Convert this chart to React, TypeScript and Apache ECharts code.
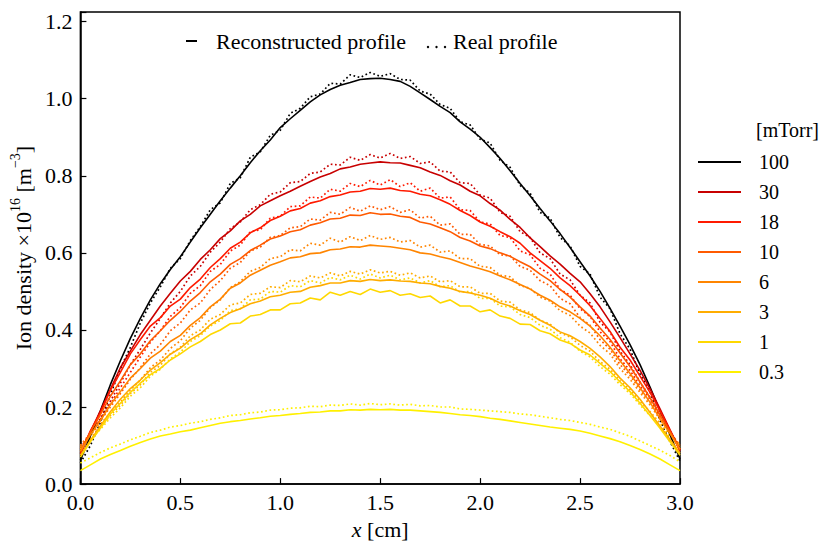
import React, { useEffect, useRef } from "react";
import * as echarts from "echarts";

const FONT = "Liberation Serif";

// sampling positions along the chamber, cm
const X_CM = [
  0, 0.05, 0.1, 0.15, 0.2, 0.25, 0.3, 0.35, 0.4, 0.45,
  0.5, 0.55, 0.6, 0.65, 0.7, 0.75, 0.8, 0.85, 0.9, 0.95,
  1, 1.05, 1.1, 1.15, 1.2, 1.25, 1.3, 1.35, 1.4, 1.45,
  1.5, 1.55, 1.6, 1.65, 1.7, 1.75, 1.8, 1.85, 1.9, 1.95,
  2, 2.05, 2.1, 2.15, 2.2, 2.25, 2.3, 2.35, 2.4, 2.45,
  2.5, 2.55, 2.6, 2.65, 2.7, 2.75, 2.8, 2.85, 2.9, 2.95,
  3,
];

const PRESSURES = ["100", "30", "18", "10", "6", "3", "1", "0.3"];
const COLORS = ["#000000", "#c80000", "#ff1a00", "#ff5a00", "#ff8500", "#ffad00", "#ffd800", "#fff000"];

// reconstructed profiles (x10^16 m^-3)
const REC_100 = [
  0.062, 0.125, 0.19, 0.258, 0.32, 0.378, 0.43, 0.478, 0.52, 0.557,
  0.59, 0.628, 0.665, 0.7, 0.735, 0.768, 0.8, 0.834, 0.865, 0.893,
  0.925, 0.948, 0.97, 0.992, 1.01, 1.024, 1.035, 1.042, 1.05, 1.052,
  1.053, 1.05, 1.045, 1.032, 1.015, 0.998, 0.98, 0.964, 0.94, 0.921,
  0.9, 0.873, 0.845, 0.813, 0.78, 0.748, 0.715, 0.683, 0.65, 0.614,
  0.577, 0.54, 0.5, 0.456, 0.41, 0.362, 0.31, 0.252, 0.19, 0.128,
  0.065,
];
const REC_30 = [
  0.077, 0.136, 0.19, 0.246, 0.302, 0.345, 0.388, 0.425, 0.462, 0.495,
  0.527, 0.552, 0.583, 0.608, 0.637, 0.657, 0.683, 0.7, 0.722, 0.735,
  0.748, 0.76, 0.773, 0.785, 0.797, 0.806, 0.818, 0.823, 0.83, 0.833,
  0.836, 0.834, 0.833, 0.827, 0.821, 0.81, 0.801, 0.787, 0.776, 0.76,
  0.748, 0.728, 0.711, 0.687, 0.666, 0.639, 0.616, 0.592, 0.571, 0.547,
  0.525, 0.494, 0.46, 0.421, 0.38, 0.338, 0.295, 0.247, 0.195, 0.141,
  0.088,
];
const REC_18 = [
  0.08, 0.138, 0.185, 0.243, 0.29, 0.338, 0.375, 0.41, 0.432, 0.462,
  0.48, 0.51, 0.532, 0.562, 0.585, 0.612, 0.628, 0.652, 0.665, 0.684,
  0.695, 0.709, 0.715, 0.729, 0.735, 0.746, 0.75, 0.758, 0.76, 0.767,
  0.765, 0.768, 0.762, 0.76, 0.752, 0.748, 0.738, 0.726, 0.71, 0.697,
  0.68, 0.669, 0.655, 0.642, 0.625, 0.6, 0.58, 0.56, 0.535, 0.515,
  0.49, 0.463, 0.43, 0.396, 0.355, 0.322, 0.28, 0.238, 0.19, 0.14,
  0.085,
];
const REC_10 = [
  0.085, 0.135, 0.18, 0.228, 0.268, 0.31, 0.338, 0.372, 0.398, 0.425,
  0.448, 0.475, 0.497, 0.525, 0.545, 0.57, 0.585, 0.606, 0.62, 0.636,
  0.644, 0.655, 0.66, 0.672, 0.678, 0.688, 0.69, 0.698, 0.697, 0.704,
  0.7, 0.701, 0.695, 0.692, 0.68, 0.675, 0.665, 0.655, 0.64, 0.631,
  0.618, 0.611, 0.6, 0.591, 0.577, 0.564, 0.545, 0.528, 0.505, 0.485,
  0.46, 0.436, 0.405, 0.375, 0.34, 0.305, 0.265, 0.224, 0.18, 0.136,
  0.09,
];
const REC_6 = [
  0.085, 0.128, 0.165, 0.206, 0.24, 0.275, 0.3, 0.327, 0.345, 0.37,
  0.386, 0.412, 0.432, 0.46, 0.48, 0.508, 0.522, 0.542, 0.555, 0.568,
  0.577, 0.587, 0.59, 0.598, 0.6, 0.608, 0.61, 0.616, 0.615, 0.62,
  0.618, 0.616, 0.612, 0.608, 0.6, 0.597, 0.59, 0.584, 0.575, 0.566,
  0.559, 0.551, 0.54, 0.53, 0.518, 0.506, 0.49, 0.477, 0.46, 0.447,
  0.43, 0.41, 0.385, 0.355, 0.32, 0.287, 0.25, 0.212, 0.17, 0.131,
  0.09,
];
const REC_3 = [
  0.075, 0.113, 0.15, 0.188, 0.22, 0.248, 0.27, 0.296, 0.315, 0.337,
  0.353, 0.375, 0.39, 0.413, 0.43, 0.445, 0.455, 0.468, 0.475, 0.486,
  0.49, 0.498, 0.5, 0.511, 0.515, 0.522, 0.522, 0.528, 0.526, 0.531,
  0.528, 0.53, 0.527, 0.526, 0.522, 0.52, 0.513, 0.508, 0.5, 0.496,
  0.49, 0.482, 0.47, 0.462, 0.45, 0.44, 0.425, 0.412, 0.395, 0.385,
  0.37, 0.352, 0.33, 0.305, 0.275, 0.25, 0.22, 0.186, 0.15, 0.116,
  0.08,
];
const REC_1 = [
  0.07, 0.11, 0.145, 0.182, 0.21, 0.238, 0.262, 0.284, 0.3, 0.322,
  0.338, 0.356, 0.37, 0.388, 0.4, 0.416, 0.418, 0.436, 0.44, 0.452,
  0.452, 0.468, 0.47, 0.483, 0.478, 0.498, 0.49, 0.5, 0.492, 0.506,
  0.498, 0.502, 0.49, 0.494, 0.484, 0.488, 0.47, 0.478, 0.462, 0.462,
  0.447, 0.452, 0.436, 0.43, 0.415, 0.414, 0.398, 0.39, 0.374, 0.365,
  0.348, 0.335, 0.313, 0.292, 0.265, 0.24, 0.21, 0.178, 0.145, 0.11,
  0.075,
];
const REC_03 = [
  0.035, 0.05, 0.065, 0.077, 0.087, 0.098, 0.108, 0.117, 0.125, 0.13,
  0.136, 0.14, 0.146, 0.152, 0.158, 0.162, 0.165, 0.169, 0.172, 0.176,
  0.178, 0.181, 0.183, 0.186, 0.187, 0.19, 0.19, 0.193, 0.192, 0.194,
  0.193, 0.194, 0.192, 0.192, 0.19, 0.188, 0.186, 0.183, 0.18, 0.178,
  0.175, 0.171, 0.168, 0.164, 0.16, 0.156, 0.152, 0.148, 0.145, 0.142,
  0.138, 0.132, 0.125, 0.118, 0.11, 0.1, 0.09, 0.078, 0.065, 0.05,
  0.035,
];

// measured (real) profiles
const REAL_100 = [
  0.055, 0.1, 0.16, 0.232, 0.3, 0.355, 0.418, 0.47, 0.512, 0.56,
  0.585, 0.632, 0.668, 0.712, 0.73, 0.78, 0.795, 0.848, 0.862, 0.905,
  0.918, 0.962, 0.975, 1.005, 1.012, 1.04, 1.038, 1.062, 1.055, 1.068,
  1.058, 1.065, 1.05, 1.048, 1.02, 1.012, 0.985, 0.975, 0.94, 0.932,
  0.895, 0.885, 0.84, 0.822, 0.775, 0.755, 0.705, 0.69, 0.64, 0.618,
  0.565, 0.545, 0.485, 0.455, 0.39, 0.35, 0.285, 0.24, 0.165, 0.11,
  0.06,
];
const REAL_30 = [
  0.09, 0.13, 0.17, 0.215, 0.262, 0.31, 0.35, 0.392, 0.43, 0.47,
  0.5, 0.54, 0.565, 0.602, 0.628, 0.663, 0.68, 0.712, 0.725, 0.752,
  0.758, 0.782, 0.785, 0.806, 0.81, 0.83, 0.828, 0.848, 0.84, 0.855,
  0.846, 0.858, 0.845, 0.85, 0.832, 0.836, 0.812, 0.81, 0.782, 0.78,
  0.75, 0.742, 0.705, 0.695, 0.655, 0.64, 0.6, 0.585, 0.545, 0.53,
  0.49, 0.47, 0.42, 0.395, 0.345, 0.31, 0.265, 0.225, 0.18, 0.135,
  0.09,
];
const REAL_18 = [
  0.095, 0.13, 0.168, 0.208, 0.25, 0.29, 0.33, 0.368, 0.398, 0.435,
  0.458, 0.495, 0.515, 0.552, 0.57, 0.605, 0.62, 0.655, 0.66, 0.69,
  0.695, 0.72, 0.722, 0.745, 0.742, 0.765, 0.76, 0.78, 0.772, 0.788,
  0.776, 0.79, 0.772, 0.782, 0.76, 0.768, 0.742, 0.745, 0.712, 0.71,
  0.68, 0.675, 0.645, 0.64, 0.605, 0.595, 0.56, 0.545, 0.505, 0.49,
  0.455, 0.435, 0.395, 0.37, 0.325, 0.295, 0.255, 0.22, 0.175, 0.135,
  0.095,
];
const REAL_10 = [
  0.1, 0.132, 0.165, 0.2, 0.235, 0.272, 0.302, 0.338, 0.362, 0.398,
  0.418, 0.452, 0.47, 0.505, 0.528, 0.56, 0.575, 0.605, 0.615, 0.64,
  0.645, 0.665, 0.668, 0.688, 0.685, 0.705, 0.7, 0.718, 0.708, 0.722,
  0.712, 0.72, 0.705, 0.712, 0.69, 0.695, 0.672, 0.675, 0.648, 0.648,
  0.622, 0.618, 0.595, 0.592, 0.565, 0.555, 0.528, 0.515, 0.482, 0.468,
  0.432, 0.412, 0.375, 0.35, 0.31, 0.282, 0.245, 0.212, 0.172, 0.135,
  0.1,
];
const REAL_6 = [
  0.1, 0.128, 0.155, 0.185, 0.212, 0.245, 0.27, 0.302, 0.322, 0.352,
  0.372, 0.405, 0.425, 0.458, 0.478, 0.51, 0.525, 0.552, 0.562, 0.585,
  0.59, 0.608, 0.605, 0.625, 0.62, 0.638, 0.628, 0.642, 0.632, 0.645,
  0.635, 0.64, 0.628, 0.632, 0.615, 0.62, 0.602, 0.605, 0.585, 0.585,
  0.565, 0.562, 0.542, 0.538, 0.515, 0.508, 0.485, 0.475, 0.45, 0.438,
  0.41, 0.392, 0.36, 0.338, 0.3, 0.272, 0.238, 0.205, 0.168, 0.135,
  0.1,
];
const REAL_3 = [
  0.095, 0.12, 0.148, 0.178, 0.205, 0.235, 0.258, 0.29, 0.308, 0.338,
  0.355, 0.385, 0.4, 0.428, 0.44, 0.465, 0.47, 0.492, 0.495, 0.512,
  0.51, 0.528, 0.525, 0.54, 0.535, 0.548, 0.54, 0.552, 0.545, 0.556,
  0.548, 0.552, 0.542, 0.548, 0.535, 0.54, 0.525, 0.528, 0.512, 0.512,
  0.495, 0.495, 0.475, 0.472, 0.452, 0.445, 0.425, 0.415, 0.392, 0.382,
  0.36, 0.345, 0.318, 0.298, 0.268, 0.245, 0.215, 0.188, 0.158, 0.128,
  0.1,
];
const REAL_1 = [
  0.09, 0.115, 0.142, 0.172, 0.198, 0.228, 0.25, 0.28, 0.298, 0.325,
  0.342, 0.37, 0.385, 0.41, 0.425, 0.45, 0.455, 0.478, 0.48, 0.5,
  0.498, 0.515, 0.512, 0.528, 0.522, 0.536, 0.53, 0.542, 0.532, 0.545,
  0.535, 0.542, 0.53, 0.535, 0.522, 0.528, 0.512, 0.515, 0.498, 0.5,
  0.482, 0.482, 0.462, 0.46, 0.44, 0.432, 0.412, 0.402, 0.38, 0.368,
  0.345, 0.33, 0.305, 0.285, 0.258, 0.235, 0.205, 0.178, 0.15, 0.122,
  0.095,
];
const REAL_03 = [
  0.055, 0.068, 0.082, 0.094, 0.104, 0.115, 0.124, 0.134, 0.14, 0.148,
  0.152, 0.158, 0.162, 0.168, 0.172, 0.178, 0.18, 0.185, 0.187, 0.192,
  0.193, 0.197, 0.198, 0.202, 0.201, 0.205, 0.204, 0.208, 0.205, 0.209,
  0.206, 0.208, 0.205, 0.207, 0.203, 0.204, 0.2, 0.2, 0.195, 0.194,
  0.192, 0.19, 0.188, 0.186, 0.182, 0.18, 0.176, 0.172, 0.168, 0.165,
  0.16, 0.155, 0.148, 0.142, 0.133, 0.124, 0.112, 0.1, 0.088, 0.074,
  0.058,
];

const RECONSTRUCTED = [REC_100, REC_30, REC_18, REC_10, REC_6, REC_3, REC_1, REC_03];
const REAL = [REAL_100, REAL_30, REAL_18, REAL_10, REAL_6, REAL_3, REAL_1, REAL_03];

const X_TICKS = { min: 0, max: 3, interval: 0.5 };
const Y_TICKS = { min: 0, max: 1.225, interval: 0.2 };

function pairs(vals: number[]) {
  return vals.map((v, i) => [X_CM[i], v]);
}

export default function App() {
  const ref = useRef<HTMLDivElement>(null);

  useEffect(() => {
    if (!ref.current) return;
    const chart = echarts.init(ref.current, undefined, { renderer: "svg" });

    const series: any[] = [];
    PRESSURES.forEach((p, k) => {
      series.push({
        name: p + " real",
        type: "line",
        data: pairs(REAL[k]),
        showSymbol: false,
        symbol: "none",
        z: 2,
        lineStyle: { color: COLORS[k], width: 1.7, type: [1.7, 2.6] },
        itemStyle: { color: COLORS[k] },
      });
      series.push({
        name: p,
        type: "line",
        data: pairs(RECONSTRUCTED[k]),
        showSymbol: false,
        symbol: "none",
        z: 3,
        lineStyle: { color: COLORS[k], width: 1.6 },
        itemStyle: { color: COLORS[k] },
      });
    });

    const txt = { color: "#000", fontFamily: FONT };
    const gtext = (text: string, x: number, y: number, size: number) => ({
      type: "text",
      x,
      y,
      style: { text, fill: "#000", fontFamily: FONT, fontSize: size, verticalAlign: "middle", align: "left" },
    });

    chart.setOption({
      animation: false,
      textStyle: { fontFamily: FONT },
      grid: {
        left: 80,
        right: 145,
        top: 12,
        bottom: 58,
        show: true,
        borderColor: "#000",
        borderWidth: 1.5,
        backgroundColor: "transparent",
      },
      xAxis: {
        type: "value",
        min: X_TICKS.min,
        max: X_TICKS.max,
        interval: X_TICKS.interval,
        axisLine: { lineStyle: { color: "#000", width: 1.5 } },
        axisTick: { inside: true, length: 6, lineStyle: { color: "#000", width: 1.2 } },
        splitLine: { show: false },
        axisLabel: { ...txt, fontSize: 22, margin: 7, formatter: (v: number) => v.toFixed(1) },
        name: "{i|x} {a|[cm]}",
        nameLocation: "middle",
        nameGap: 27,
        nameTextStyle: {
          ...txt,
          fontSize: 22,
          rich: {
            i: { ...txt, fontSize: 22, fontStyle: "italic" },
            a: { ...txt, fontSize: 22 },
          },
        },
      },
      yAxis: {
        type: "value",
        min: Y_TICKS.min,
        max: Y_TICKS.max,
        interval: Y_TICKS.interval,
        axisLine: { lineStyle: { color: "#000", width: 1.5 } },
        axisTick: { inside: true, length: 6, lineStyle: { color: "#000", width: 1.2 } },
        splitLine: { show: false },
        axisLabel: {
          ...txt,
          fontSize: 22,
          margin: 8,
          formatter: (v: number) => {
            const r = v / Y_TICKS.interval;
            return Math.abs(r - Math.round(r)) < 1e-6 ? v.toFixed(1) : "";
          },
        },
        name: "{a|Ion density ×10}{s|16}{a| [m}{s|−3}{a|]}",
        nameLocation: "middle",
        nameGap: 44,
        nameRotate: 90,
        nameTextStyle: {
          ...txt,
          fontSize: 22,
          rich: {
            a: { ...txt, fontSize: 22, lineHeight: 26, verticalAlign: "bottom" },
            s: { ...txt, fontSize: 14, lineHeight: 14, verticalAlign: "top" },
          },
        },
      },
      legend: {
        data: PRESSURES,
        orient: "vertical",
        left: 693,
        top: 147,
        icon: "rect",
        itemWidth: 43,
        itemHeight: 2,
        itemGap: 10,
        selectedMode: false,
        textStyle: { color: "#000", fontFamily: FONT, fontSize: 20, lineHeight: 20, padding: [0, 0, 0, 13] },
      },
      graphic: [
        { type: "line", shape: { x1: 186, y1: 41, x2: 197, y2: 41 }, style: { stroke: "#000", lineWidth: 2 } },
        gtext("Reconstructed profile", 216, 41, 22),
        { type: "circle", shape: { cx: 428, cy: 47, r: 1.2 }, style: { fill: "#000" } },
        { type: "circle", shape: { cx: 436.5, cy: 47, r: 1.2 }, style: { fill: "#000" } },
        { type: "circle", shape: { cx: 445, cy: 47, r: 1.2 }, style: { fill: "#000" } },
        gtext("Real profile", 453, 41, 22),
        gtext("[mTorr]", 756, 130, 20),
      ],
      series,
    });

    return () => chart.dispose();
  }, []);

  return (
    <div
      ref={ref}
      style={{ position: "fixed", left: 0, top: 0, width: 825, height: 545, background: "#fff" }}
    />
  );
}
